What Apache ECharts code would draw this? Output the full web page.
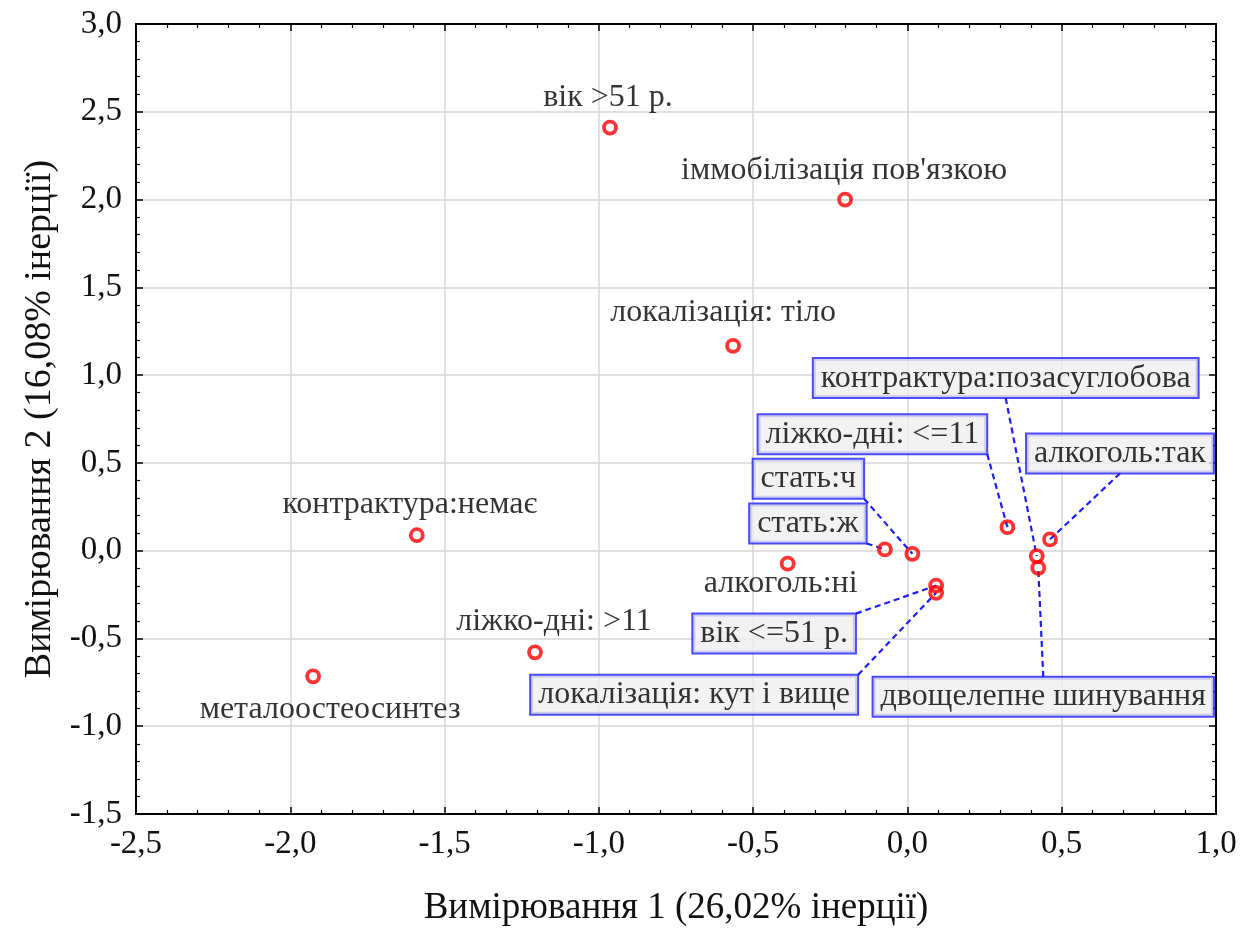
<!DOCTYPE html>
<html>
<head>
<meta charset="utf-8">
<script src="https://cdn.jsdelivr.net/npm/echarts@6/dist/echarts.min.js"></script>
<style>
  html, body { margin: 0; padding: 0; background: #ffffff; }
  #chart { width: 1256px; height: 928px; }
</style>
</head>
<body>
<div id="chart"></div>
<script>
// Category names and their coordinates on the two correspondence dimensions
const categories = [
  'вік >51 р.',
  'іммобілізація пов\'язкою',
  'локалізація: тіло',
  'контрактура:немає',
  'ліжко-дні: >11',
  'металоостеосинтез',
  'алкоголь:ні',
  'стать:ж',
  'стать:ч',
  'вік <=51 р.',
  'локалізація: кут і вище',
  'ліжко-дні: <=11',
  'алкоголь:так',
  'контрактура:позасуглобова',
  'двощелепне шинування'
];
const dim1 = [-0.964, -0.202, -0.565, -1.590, -1.207, -1.926, -0.388, -0.073, 0.016, 0.093, 0.093, 0.324, 0.462, 0.419, 0.424];
const dim2 = [ 2.410,  2.000,  1.167,  0.088, -0.579, -0.716, -0.074,  0.007, -0.018, -0.199, -0.240, 0.134, 0.064, -0.031, -0.098];

// Axis titles
const xTitle = 'Вимірювання 1 (26,02% інерції)';
const yTitle = 'Вимірювання 2 (16,08% інерції)';

// Label placement: pixel offset of the label centre from its point
const labelOffsets = [
  [-2, -30], [-1, -29], [-10, -33], [-7, -31], [19, -31], [17, 33], [-7, 20],
  [-77, -26], [-104, -75], [-162, 48], [-242, 102], [-135, -93], [70, -86], [-31, -178], [5, 129]
];
// Where the dashed leader leaves its box (fraction of box width / height); null = no box
const leaderAnchor = [null, null, null, null, null, null, null,
  [1, 1], [1, 1], [1, 0], [1, 0], [1, 1], [0.5, 1], [0.5, 1], [0.5, 0]];

const FONT = 'Liberation Serif';
const LABEL_SIZE = 32;
const PAD = [3, 7];
const BORDER = 2;
const BLUE = '#1e1ef5';

const plainLabel = {
  show: true, position: 'inside', align: 'center', verticalAlign: 'middle',
  color: '#000000', fontFamily: FONT, fontSize: LABEL_SIZE
};
const boxLabel = Object.assign({}, plainLabel, {
  backgroundColor: '#efefef', borderColor: BLUE, borderWidth: BORDER,
  padding: [PAD[0], PAD[1], PAD[0], PAD[1]]
});

const points = categories.map((name, i) => ({
  name: name,
  value: [dim1[i], dim2[i]],
  label: Object.assign({ formatter: name }, leaderAnchor[i] ? boxLabel : plainLabel)
}));

// one leader per boxed label: [dim1, dim2, category index]
const leaders = categories
  .map((n, i) => leaderAnchor[i] ? [dim1[i], dim2[i], i] : null)
  .filter(Boolean);

const measureCtx = document.createElement('canvas').getContext('2d');
measureCtx.font = LABEL_SIZE + 'px "' + FONT + '"';
const textWidth = s => measureCtx.measureText(s).width;

function renderLeader(params, api) {
  const i = api.value(2);
  const p = api.coord([api.value(0), api.value(1)]);
  const w = textWidth(categories[i]) + 2 * PAD[1] + BORDER;
  const h = LABEL_SIZE + 2 * PAD[0] + BORDER;
  const cx = p[0] + labelOffsets[i][0];
  const cy = p[1] + labelOffsets[i][1];
  const a = leaderAnchor[i];
  return {
    type: 'line',
    shape: { x1: cx + (a[0] - 0.5) * w, y1: cy + (a[1] - 0.5) * h, x2: p[0], y2: p[1] },
    style: { stroke: BLUE, lineWidth: 2.2, lineDash: [6, 4], fill: null }
  };
}

const tickFmt = v => v.toFixed(1).replace('.', ',');

function makeAxis(pos, min, max, labels, name, nameGap, nameSize) {
  return {
    type: 'value', position: pos, min: min, max: max, interval: 0.5,
    name: name || '', nameLocation: 'middle', nameGap: nameGap || 0,
    nameTextStyle: { fontFamily: FONT, fontSize: nameSize || 33, color: '#111111' },
    axisLine: { show: true, onZero: false, lineStyle: { color: '#000000', width: 2 } },
    axisTick: { show: true, inside: true, length: 7, lineStyle: { color: '#000', width: 1.5 } },
    minorTick: { show: true, splitNumber: 5, length: 4, lineStyle: { color: '#000', width: 1.2 } },
    axisLabel: {
      show: labels, formatter: tickFmt, fontFamily: FONT, fontSize: 33,
      color: '#111111', margin: 14
    },
    splitLine: { show: labels, lineStyle: { color: '#d6d6d6', width: 1.5 } }
  };
}

const chart = echarts.init(document.getElementById('chart'), null, { renderer: 'canvas' });
chart.setOption({
  backgroundColor: '#ffffff',
  animation: false,
  grid: { left: 136, right: 40, top: 24, bottom: 114, containLabel: false, outerBoundsMode: 'none' },
  xAxis: [
    makeAxis('bottom', -2.5, 1.0, true, xTitle, 76, 37),
    makeAxis('top', -2.5, 1.0, false)
  ],
  yAxis: [
    makeAxis('left', -1.5, 3.0, true, yTitle, 76, 38),
    makeAxis('right', -1.5, 3.0, false)
  ],
  series: [{
    type: 'custom',
    coordinateSystem: 'cartesian2d',
    xAxisIndex: 0, yAxisIndex: 0,
    z: 1, silent: true, clip: false,
    encode: { x: 0, y: 1 },
    data: leaders,
    renderItem: renderLeader
  }, {
    type: 'scatter',
    xAxisIndex: 0, yAxisIndex: 0,
    z: 3,
    symbol: 'circle', symbolSize: 12,
    itemStyle: { color: 'rgba(255,255,255,0)', borderColor: '#ff0000', borderWidth: 3.8 },
    emphasis: { disabled: true },
    data: points,
    labelLayout: function (params) {
      const o = labelOffsets[params.dataIndex];
      return { dx: o[0], dy: o[1] };
    }
  }]
});
</script>
</body>
</html>
